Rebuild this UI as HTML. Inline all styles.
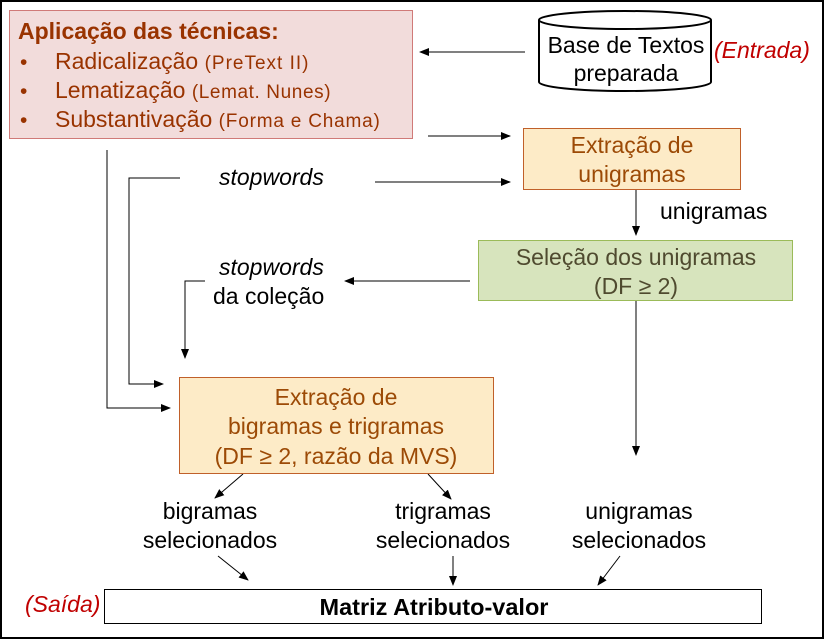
<!DOCTYPE html>
<html><head><meta charset="utf-8"><style>
html,body{margin:0;padding:0;background:#fff}
svg{display:block;font-family:"Liberation Sans",sans-serif}
</style></head><body>
<svg width="825" height="640" viewBox="0 0 825 640" xmlns="http://www.w3.org/2000/svg">
<defs><marker id="a" markerWidth="10" markerHeight="8" refX="9" refY="4" orient="auto" markerUnits="userSpaceOnUse"><path d="M0,0 L10,4 L0,8 z" fill="#000"/></marker></defs>
<rect x="1" y="1" width="822" height="637" fill="#fff" stroke="#000" stroke-width="2"/>
<rect x="9.5" y="10.5" width="403" height="128" fill="#F2DCDB" stroke="#D07A78" stroke-width="1"/>
<g fill="#993300">
<text x="18" y="39" font-size="23" font-weight="bold">Aplicação das técnicas:</text>
<text x="20" y="69" font-size="21">•</text>
<text x="20" y="98" font-size="21">•</text>
<text x="20" y="127" font-size="21">•</text>
<text x="55" y="69" font-size="23">Radicalização <tspan font-size="19" letter-spacing="1">(PreText II)</tspan></text>
<text x="55" y="98" font-size="23">Lematização <tspan font-size="19" letter-spacing="0.6">(Lemat. Nunes)</tspan></text>
<text x="55" y="127" font-size="23">Substantivação <tspan font-size="19" letter-spacing="0.8">(Forma  e Chama)</tspan></text>
</g>
<path d="M539,20 L539,82 A86,9 0 0 0 711,82 L711,20" fill="#fff" stroke="#000" stroke-width="2"/>
<ellipse cx="625" cy="20" rx="86" ry="9" fill="#fff" stroke="#000" stroke-width="2"/>
<g font-size="23">
<text x="626" y="53" text-anchor="middle">Base de Textos</text>
<text x="626" y="81" text-anchor="middle">preparada</text>
<text x="714" y="58" font-style="italic" fill="#C00000">(Entrada)</text>
</g>
<g stroke="#000" stroke-width="1" fill="none">
<line x1="525" y1="52" x2="420" y2="52" marker-end="url(#a)"/>
<line x1="428" y1="136" x2="510" y2="136" marker-end="url(#a)"/>
<line x1="375" y1="182" x2="510" y2="182" marker-end="url(#a)"/>
<polyline points="180,178 129,178 129,384 163,384" marker-end="url(#a)"/>
<polyline points="107,150 107,408 170,408" marker-end="url(#a)"/>
<line x1="636" y1="189" x2="636" y2="235" marker-end="url(#a)"/>
<line x1="470" y1="281" x2="345" y2="281" marker-end="url(#a)"/>
<polyline points="205,281 185,281 185,358" marker-end="url(#a)"/>
<line x1="636" y1="301" x2="636" y2="455" marker-end="url(#a)"/>
<line x1="243" y1="474" x2="215" y2="498" marker-end="url(#a)"/>
<line x1="428" y1="474" x2="451" y2="499" marker-end="url(#a)"/>
<line x1="218" y1="556" x2="248" y2="580" marker-end="url(#a)"/>
<line x1="453" y1="556" x2="453" y2="585" marker-end="url(#a)"/>
<line x1="620" y1="556" x2="598" y2="585" marker-end="url(#a)"/>
</g>
<rect x="523.5" y="128.5" width="217" height="61" fill="#FDEBC7" stroke="#C0602A" stroke-width="1"/>
<g font-size="23">
<text x="632" y="153" text-anchor="middle" fill="#9C4A06">Extração de</text>
<text x="632" y="182" text-anchor="middle" fill="#9C4A06">unigramas</text>
<text x="219" y="185" font-style="italic">stopwords</text>
<text x="660" y="219">unigramas</text>
</g>
<rect x="478.5" y="240.5" width="314" height="60" fill="#D7E4BD" stroke="#9BBB59" stroke-width="1"/>
<g font-size="23">
<text x="636" y="265" text-anchor="middle" fill="#4F4A2F">Seleção dos unigramas</text>
<text x="636" y="294" text-anchor="middle" fill="#4F4A2F">(DF ≥ 2)</text>
<text x="219" y="275" font-style="italic">stopwords</text>
<text x="213" y="304">da coleção</text>
</g>
<rect x="179.5" y="377.5" width="314" height="96" fill="#FDEBC7" stroke="#C0602A" stroke-width="1"/>
<g font-size="23" text-anchor="middle" fill="#9C4A06">
<text x="336" y="405">Extração de</text>
<text x="336" y="434">bigramas e trigramas</text>
<text x="336" y="464">(DF ≥ 2, razão da MVS)</text>
</g>
<g font-size="23" text-anchor="middle">
<text x="210" y="519">bigramas</text><text x="210" y="548">selecionados</text>
<text x="443" y="519">trigramas</text><text x="443" y="548">selecionados</text>
<text x="639" y="519">unigramas</text><text x="639" y="548">selecionados</text>
</g>
<rect x="104.5" y="589.5" width="657" height="34" fill="#fff" stroke="#000" stroke-width="1"/>
<text x="434" y="615" font-size="23.5" font-weight="bold" text-anchor="middle">Matriz Atributo-valor</text>
<text x="25" y="612" font-size="23" font-style="italic" fill="#C00000">(Saída)</text>
</svg>
</body></html>
